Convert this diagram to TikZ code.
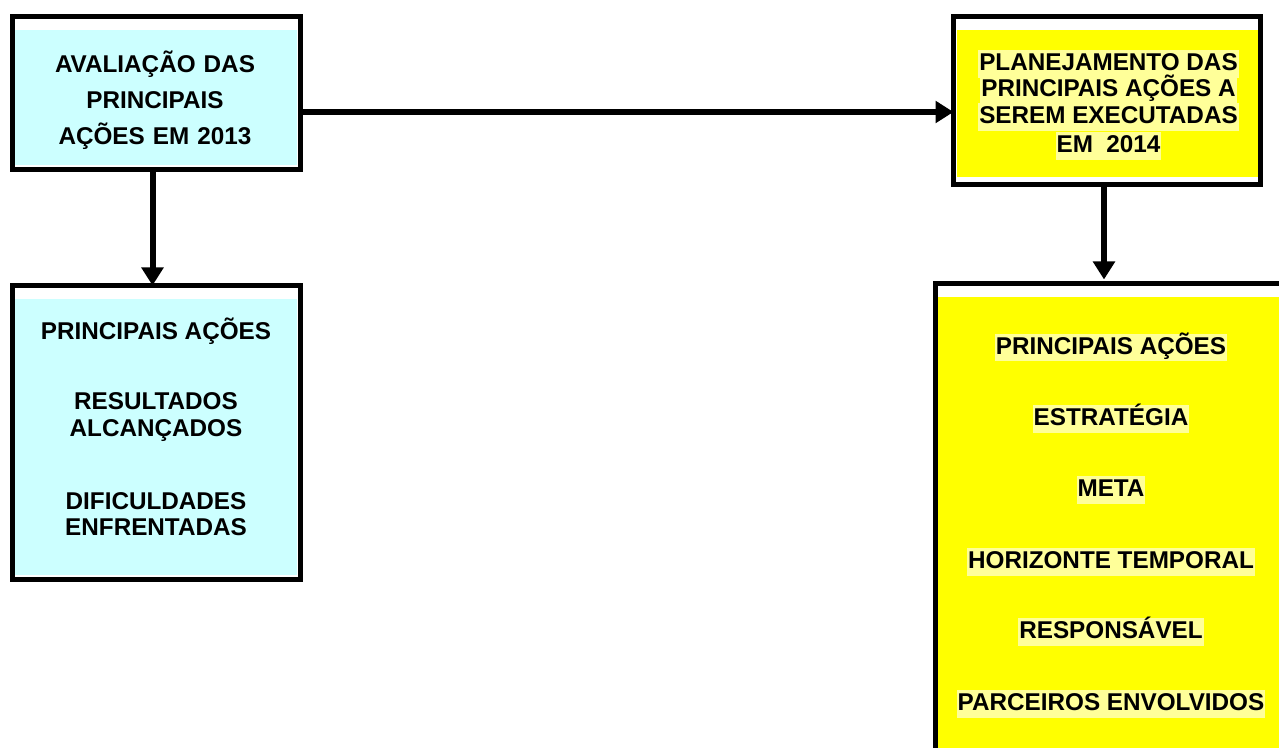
\documentclass[tikz,border=0pt]{standalone}
\usepackage{fontspec}
\setmainfont{Liberation Sans}[BoldFont={Liberation Sans Bold}]
\usetikzlibrary{arrows.meta}
\definecolor{paleCyan}{HTML}{CCFFFF}
\definecolor{brightYellow}{HTML}{FFFF00}
\definecolor{hiliteYellow}{HTML}{FFFF99}

\begin{document}
\begin{tikzpicture}[x=0.75pt,y=0.75pt,yscale=-1,xscale=1,
  frame/.style={draw,line width=3.75pt,inner sep=0,outer sep=0},
  boxtext/.style={font=\fontsize{18.2}{20}\selectfont\bfseries,align=center,inner sep=0},
  hilite/.style={boxtext,fill=hiliteYellow,inner xsep=0.75pt,inner ysep=0.75pt,text height=14.8pt,text depth=4.6pt},
  arrowline/.style={-{Triangle[length=13.5pt,width=16pt]},line width=4.5pt}]

\clip (0,0) rectangle (1279,748);

% evaluation part
\fill [paleCyan] (15,30) rectangle (297,165);
\node [frame,minimum width=216pt,minimum height=114.75pt] (evalBox) at (156.5,93) {};
\node [boxtext,text width=210pt,font=\fontsize{18.2}{27}\selectfont\bfseries] (evalText) at (155,100)
  {AVALIAÇÃO DAS\\PRINCIPAIS\\AÇÕES EM 2013};

\fill [paleCyan] (15,299) rectangle (297,575);
\node [frame,minimum width=216pt,minimum height=220.5pt] (resultBox) at (156.5,432.5) {};
\node [boxtext] (resultActions) at (156,331) {PRINCIPAIS AÇÕES};
\node [boxtext] (resultReached) at (156,417) {RESULTADOS\\ALCANÇADOS};
\node [boxtext] (resultIssues) at (156,514) {DIFICULDADES\\ENFRENTADAS};

% planning part
\fill [brightYellow] (957,30) rectangle (1258,177);
\node [frame,minimum width=230.25pt,minimum height=126pt] (planBox) at (1107,100.5) {};
\node [hilite] (planLineA) at (1108.5,64) {PLANEJAMENTO DAS};
\node [hilite] (planLineB) at (1108.5,90) {PRINCIPAIS AÇÕES A};
\node [hilite] (planLineC) at (1108.5,117) {SEREM EXECUTADAS};
\node [hilite] (planLineD) at (1108.5,146) {EM\ \ 2014};

\fill [brightYellow] (938,297) rectangle (1290,760);
\node [frame,minimum width=273.4pt,minimum height=364.9pt] (itemBox) at (1117.75,526.75) {};
\node [hilite] (itemActions) at (1111,347.5) {PRINCIPAIS AÇÕES};
\node [hilite] (itemStrategy) at (1111,419) {ESTRATÉGIA};
\node [hilite] (itemGoal) at (1111,490) {META};
\node [hilite] (itemHorizon) at (1111,562) {HORIZONTE TEMPORAL};
\node [hilite] (itemOwner) at (1111,632) {RESPONSÁVEL};
\node [hilite] (itemPartners) at (1111,704) {PARCEIROS ENVOLVIDOS};

% connectors
\coordinate (flowLevel) at (0,112);
\draw [arrowline] (evalBox.east |- flowLevel) -- (planBox.west |- flowLevel);
\draw [arrowline] ([xshift=-3pt]evalBox.south) -- ([xshift=-3pt]resultBox.north);
\draw [arrowline,shorten >=3pt] ([xshift=-2.25pt]planBox.south) -- ([xshift=-2.25pt]planBox.south |- itemBox.north);

\end{tikzpicture}
\end{document}
